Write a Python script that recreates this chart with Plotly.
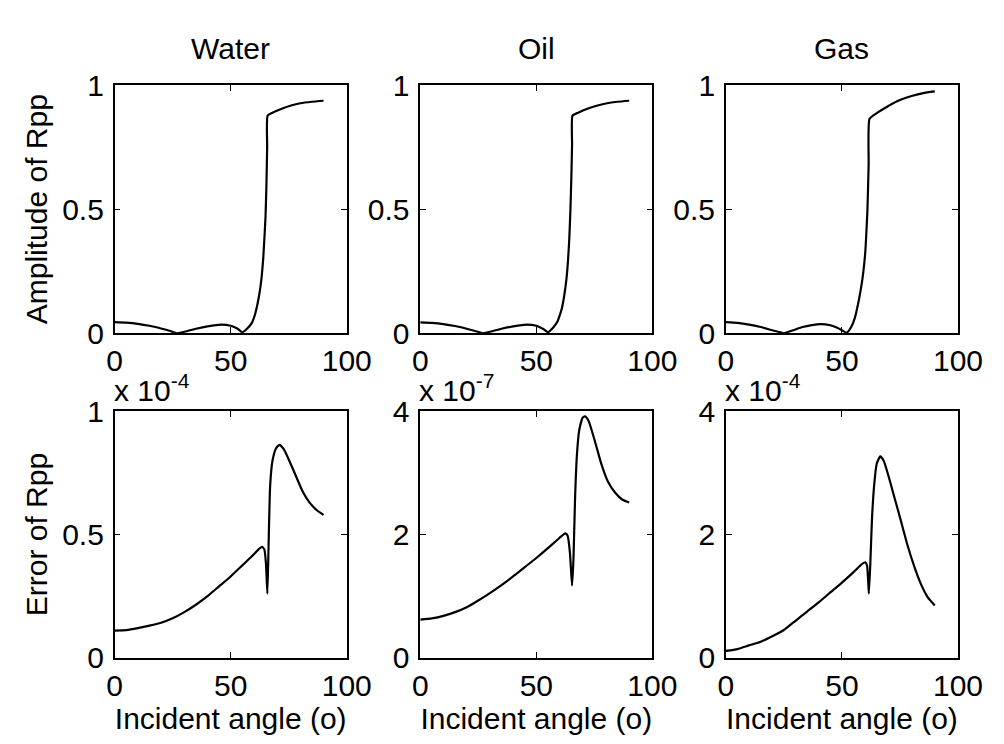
import plotly.graph_objects as go

# ---------------- data ----------------
panel_titles = ["Water", "Oil", "Gas"]

# Amplitude of Rpp vs incident angle (deg)
amp_water_ang = [0, 5, 10, 15, 20, 24, 27, 31, 35, 40, 46, 50, 53, 55, 57, 59, 60, 61, 62, 63, 64, 64.5, 65, 65.4, 65.7, 65.9, 68, 72, 76, 80, 85, 90]
amp_water_val = [0.045, 0.043, 0.038, 0.030, 0.019, 0.009, 0.0, 0.008, 0.018, 0.028, 0.035, 0.030, 0.018, 0.004, 0.018, 0.040, 0.062, 0.095, 0.14, 0.20, 0.30, 0.38, 0.47, 0.60, 0.75, 0.877, 0.889, 0.905, 0.918, 0.927, 0.933, 0.937]

amp_oil_ang = [0, 5, 10, 15, 20, 24, 27, 31, 35, 40, 46, 50, 53, 55, 57, 59, 60, 61, 62, 63, 63.7, 64.2, 64.7, 65.1, 65.4, 65.6, 68, 72, 76, 80, 85, 90]
amp_oil_val = [0.044, 0.042, 0.037, 0.029, 0.018, 0.008, 0.0, 0.008, 0.018, 0.028, 0.035, 0.030, 0.017, 0.004, 0.020, 0.045, 0.070, 0.10, 0.15, 0.22, 0.30, 0.38, 0.50, 0.63, 0.76, 0.877, 0.889, 0.905, 0.917, 0.926, 0.933, 0.937]

amp_gas_ang = [0, 5, 10, 15, 20, 22.5, 25, 29, 33, 37, 41, 45, 48, 50, 52, 54, 55.5, 57, 58, 59, 60, 60.5, 61, 61.5, 61.9, 65, 70, 75, 80, 85, 90]
amp_gas_val = [0.045, 0.042, 0.035, 0.025, 0.012, 0.006, 0.0, 0.012, 0.025, 0.033, 0.037, 0.032, 0.022, 0.012, 0.002, 0.025, 0.06, 0.12, 0.17, 0.23, 0.32, 0.40, 0.50, 0.68, 0.864, 0.887, 0.916, 0.940, 0.956, 0.968, 0.975]

# Error of Rpp (scaled by the exponent shown on each panel)
err_exponents = [-4, -7, -4]

err_water_ang = [0, 5, 10, 15, 20, 25, 30, 35, 40, 45, 50, 55, 60, 62, 63.5, 64.5, 65.2, 65.8, 66.3, 67, 68, 69.5, 71, 73, 75, 78, 81, 84, 87, 90]
err_water_val = [0.11, 0.112, 0.12, 0.13, 0.142, 0.16, 0.185, 0.215, 0.25, 0.29, 0.33, 0.375, 0.42, 0.44, 0.45, 0.44, 0.38, 0.26, 0.45, 0.70, 0.80, 0.85, 0.865, 0.845, 0.805, 0.74, 0.675, 0.63, 0.60, 0.58]

err_oil_ang = [0, 5, 10, 15, 20, 25, 30, 35, 40, 45, 50, 55, 58, 61, 62.5, 63.5, 64.5, 65.4, 66, 66.7, 67.5, 68.5, 70, 71, 72.5, 75, 78, 81, 84, 87, 90]
err_oil_val = [0.62, 0.64, 0.68, 0.74, 0.82, 0.93, 1.05, 1.18, 1.32, 1.47, 1.62, 1.78, 1.88, 1.98, 2.02, 1.98, 1.70, 1.17, 1.60, 2.60, 3.30, 3.70, 3.90, 3.92, 3.85, 3.55, 3.15, 2.85, 2.68, 2.57, 2.52]

err_gas_ang = [0, 5, 10, 15, 20, 25, 30, 35, 40, 45, 50, 55, 58, 60, 60.8, 61.3, 61.6, 62.2, 63, 64, 65, 66.5, 68, 70, 72.5, 75, 78, 81, 84, 87, 90]
err_gas_val = [0.11, 0.14, 0.20, 0.26, 0.35, 0.45, 0.60, 0.75, 0.90, 1.06, 1.22, 1.39, 1.50, 1.55, 1.50, 1.25, 1.04, 1.50, 2.30, 2.85, 3.15, 3.27, 3.20, 2.96, 2.62, 2.28, 1.86, 1.50, 1.20, 0.98, 0.85]

amp_x = [amp_water_ang, amp_oil_ang, amp_gas_ang]
amp_y = [amp_water_val, amp_oil_val, amp_gas_val]
err_x = [err_water_ang, err_oil_ang, err_gas_ang]
err_y = [err_water_val, err_oil_val, err_gas_val]

x_ticks = [0, 50, 100]
amp_ticks = [0, 0.5, 1]
amp_tick_text = ["0", "0.5", "1"]
err_ticks = [[0, 0.5, 1], [0, 2, 4], [0, 2, 4]]
err_tick_text = [["0", "0.5", "1"], ["0", "2", "4"], ["0", "2", "4"]]
err_ranges = [[0, 1], [0, 4], [0, 4]]

# ---------------- layout geometry ----------------
W, H = 1004, 744
col_px = [(102, 342), (418, 658), (734, 974)]
row_px = [(63, 323), (405, 663)]  # top, bottom in pixels from top

FONT = "Liberation Sans, Arial, Helvetica, sans-serif"
FS = 30

fig = go.Figure()
layout = dict(
    width=W, height=H, margin=dict(l=0, r=0, t=0, b=0),
    paper_bgcolor="white", plot_bgcolor="white", showlegend=False,
    font=dict(family=FONT, size=FS, color="black"),
)
annotations = []

def axis_common():
    return dict(showline=True, linecolor="black", linewidth=1.6, mirror="allticks",
                ticks="inside", ticklen=6, tickwidth=1.3, tickcolor="black",
                showgrid=False, zeroline=False,
                tickfont=dict(family=FONT, size=FS, color="black"))

idx = 0
for r in range(2):
    for c in range(3):
        idx += 1
        xa = "x" if idx == 1 else f"x{idx}"
        ya = "y" if idx == 1 else f"y{idx}"
        xkey = "xaxis" if idx == 1 else f"xaxis{idx}"
        ykey = "yaxis" if idx == 1 else f"yaxis{idx}"
        x0, x1 = col_px[c]
        t0, t1 = row_px[r]
        xd = [x0 / W, x1 / W]
        yd = [1 - t1 / H, 1 - t0 / H]
        if r == 0:
            xs, ys = amp_x[c], amp_y[c]
            yr, yt, ytt = [0, 1], amp_ticks, amp_tick_text
        else:
            xs, ys = err_x[c], err_y[c]
            yr, yt, ytt = err_ranges[c], err_ticks[c], err_tick_text[c]
        fig.add_trace(go.Scatter(x=xs, y=ys, mode="lines", xaxis=xa, yaxis=ya,
                                 line=dict(color="black", width=2.2, shape="spline", smoothing=0.5),
                                 hoverinfo="skip"))
        xa_d = axis_common()
        xa_d.update(domain=xd, range=[0, 100], tickvals=x_ticks, ticktext=[str(v) for v in x_ticks],
                    anchor=ya, ticklabelstandoff=0)
        ya_d = axis_common()
        ya_d.update(domain=yd, range=yr, tickvals=yt, ticktext=ytt, anchor=xa, ticklabelstandoff=3)
        if r == 1:
            xa_d["title"] = dict(text="Incident angle (o)", standoff=3,
                                 font=dict(family=FONT, size=FS, color="black"))
        if c == 0:
            ya_d["title"] = dict(text="Amplitude of Rpp" if r == 0 else "Error of Rpp", standoff=6,
                                 font=dict(family=FONT, size=FS, color="black"))
        layout[xkey] = xa_d
        layout[ykey] = ya_d
        if r == 0:
            annotations.append(dict(text=panel_titles[c], x=(xd[0] + xd[1]) / 2, y=yd[1],
                                    xref="paper", yref="paper", xanchor="center", yanchor="bottom",
                                    yshift=18, showarrow=False,
                                    font=dict(family=FONT, size=FS, color="black")))
        else:
            annotations.append(dict(text=f"x 10<sup>{err_exponents[c]}</sup>", x=xd[0], y=yd[1],
                                    xref="paper", yref="paper", xanchor="left", yanchor="bottom",
                                    xshift=-3, yshift=2, showarrow=False,
                                    font=dict(family=FONT, size=FS, color="black")))

layout["annotations"] = annotations
fig.update_layout(**layout)
fig.write_html("out.html")
